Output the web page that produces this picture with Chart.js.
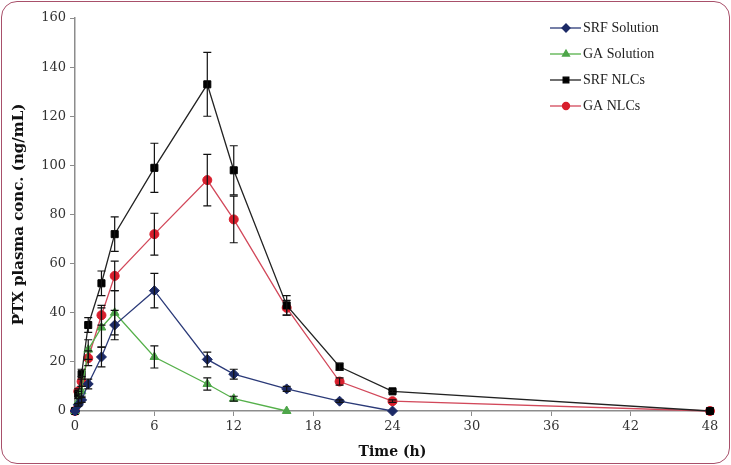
<!DOCTYPE html>
<html lang="en">
<head>
    <meta charset="UTF-8">
    <title>PTX plasma concentration</title>
    <script src="https://cdn.jsdelivr.net/npm/chart.js"></script>
    <style>
        body { margin: 0; background: #fff; }
        .wrap { position: relative; width: 731px; height: 465px; }
        .frame {
            position: absolute; left: 1px; top: 1px; width: 729px; height: 463px;
            box-sizing: border-box; border: 1.5px solid #a8506a; border-radius: 16px;
            pointer-events: none;
        }
        canvas { position: absolute; left: 0; top: 0; }
    </style>
</head>
<body>
    <div class="wrap">
        <canvas id="pkChart" width="731" height="465"></canvas>
        <div class="frame"></div>
    </div>

    <script>
        // sampling times (h)
        const times = [0, 0.25, 0.5, 1, 2, 3, 6, 10, 12, 16, 20, 24, 48];

        // mean plasma conc. (ng/mL) and SD
        const srfSolution = [0, 2.5, 4.5, 11, 22, 35, 49, 21, 15, 9, 4, 0, null];
        const srfSolutionSd = [0, 0.5, 1, 2, 4, 6, 7, 3, 2, 1, 0.5, 0, 0];
        const gaSolution = [0, 4, 8, 25, 34, 40, 22, 11, 5, 0, null, null, null];
        const gaSolutionSd = [0, 1, 2, 4, 8, 9, 4.5, 2.5, 1, 0, 0, 0, 0];
        const srfNlcs = [0, 7, 15, 35, 52, 72, 99, 133, 98, 43, 18, 8, 0];
        const srfNlcsSd = [0, 1, 2, 3, 5, 7, 10, 13, 10, 4, 1.5, 0.5, 0];
        const gaNlcs = [0, 8, 12, 21.5, 39, 55, 72, 94, 78, 42, 12, 4, 0];
        const gaNlcsSd = [0, 1, 2, 3, 4, 6, 8.5, 10.5, 9.5, 3, 1.5, 0.5, 0];

        const xTicks = [0, 6, 12, 18, 24, 30, 36, 42, 48];
        const yTicks = [0, 20, 40, 60, 80, 100, 120, 140, 160];

        const serif = "'Liberation Serif', 'DejaVu Serif', serif";
        const wideSerif = "'DejaVu Serif', serif";

        function toPoints(values) {
            return times.map((t, i) => ({ x: t, y: values[i] }));
        }

        const series = [
            { label: 'SRF Solution', values: srfSolution, sd: srfSolutionSd, line: '#2b3a78', fill: '#1c2a66', style: 'rectRot', r: 5 },
            { label: 'GA Solution', values: gaSolution, sd: gaSolutionSd, line: '#55b04a', fill: '#4ea64a', style: 'triangle', r: 5 },
            { label: 'SRF NLCs', values: srfNlcs, sd: srfNlcsSd, line: '#222222', fill: '#000000', style: 'rect', r: 5 },
            { label: 'GA NLCs', values: gaNlcs, sd: gaNlcsSd, line: '#d2485a', fill: '#d81e2c', style: 'circle', r: 4.5 },
        ];

        // error bars on every point
        const errorBars = {
            id: 'errorBars',
            afterDatasetsDraw(chart) {
                const ctx = chart.ctx;
                const yScale = chart.scales.y;
                ctx.save();
                ctx.strokeStyle = '#111';
                ctx.lineWidth = 1.2;
                chart.data.datasets.forEach((ds, di) => {
                    const meta = chart.getDatasetMeta(di);
                    meta.data.forEach((pt, i) => {
                        const v = ds.data[i].y;
                        const sd = ds.sd[i];
                        if (v === null || !sd) return;
                        const top = yScale.getPixelForValue(v + sd);
                        const bot = yScale.getPixelForValue(v - sd);
                        ctx.beginPath();
                        ctx.moveTo(pt.x, top); ctx.lineTo(pt.x, bot);
                        ctx.moveTo(pt.x - 4, top); ctx.lineTo(pt.x + 4, top);
                        ctx.moveTo(pt.x - 4, bot); ctx.lineTo(pt.x + 4, bot);
                        ctx.stroke();
                    });
                });
                ctx.restore();
            }
        };

        // legend box in the top right, Excel style
        const sideLegend = {
            id: 'sideLegend',
            afterDraw(chart) {
                const ctx = chart.ctx;
                ctx.save();
                ctx.font = '14px ' + serif;
                ctx.textBaseline = 'middle';
                chart.data.datasets.forEach((ds, i) => {
                    const y = 28 + i * 26;
                    ctx.strokeStyle = ds.borderColor;
                    ctx.lineWidth = 1.3;
                    ctx.beginPath();
                    ctx.moveTo(550, y); ctx.lineTo(581, y);
                    ctx.stroke();
                    ctx.fillStyle = ds.pointBackgroundColor;
                    ctx.strokeStyle = ds.pointBackgroundColor;
                    Chart.helpers.drawPoint(ctx, {
                        pointStyle: ds.pointStyle, radius: ds.pointRadius - 1, rotation: 0, borderWidth: 1
                    }, 566, y);
                    ctx.fillStyle = '#222';
                    ctx.fillText(ds.label, 583, y);
                });
                ctx.restore();
            }
        };

        new Chart(document.getElementById('pkChart'), {
            type: 'line',
            data: {
                datasets: series.map(s => ({
                    label: s.label,
                    data: toPoints(s.values),
                    sd: s.sd,
                    borderColor: s.line,
                    borderWidth: 1.3,
                    pointStyle: s.style,
                    pointRadius: s.r,
                    pointBackgroundColor: s.fill,
                    pointBorderColor: s.fill,
                    pointBorderWidth: 1,
                    spanGaps: false,
                    tension: 0,
                    clip: 6,
                })),
            },
            options: {
                responsive: false,
                animation: false,
                events: [],
                layout: { padding: { left: 0, top: 18, right: 21, bottom: 0 } },
                plugins: {
                    legend: { display: false },
                    tooltip: { enabled: false },
                },
                scales: {
                    x: {
                        type: 'linear',
                        min: 0, max: 48,
                        afterBuildTicks(scale) { scale.ticks = xTicks.map(v => ({ value: v })); },
                        afterFit(scale) { scale.height = 54; },
                        grid: { drawOnChartArea: false, drawTicks: true, tickLength: 5, color: '#8c8c8c' },
                        border: { color: '#8c8c8c', width: 1.5 },
                        ticks: { color: '#333', font: { family: wideSerif, size: 13 }, padding: 3, maxRotation: 0 },
                        title: { display: true, text: 'Time (h)', color: '#111', font: { family: wideSerif, size: 14, weight: 'bold' }, padding: { top: 0, bottom: 4 } },
                    },
                    y: {
                        min: 0, max: 160,
                        afterBuildTicks(scale) { scale.ticks = yTicks.map(v => ({ value: v })); },
                        afterFit(scale) { scale.width = 75; },
                        grid: { drawOnChartArea: false, drawTicks: true, tickLength: 5, color: '#8c8c8c' },
                        border: { color: '#8c8c8c', width: 1.5 },
                        ticks: { color: '#333', font: { family: wideSerif, size: 13 }, padding: 4 },
                        title: { display: true, text: 'PTX plasma conc. (ng/mL)', color: '#111', font: { family: wideSerif, size: 15, weight: 'bold' }, padding: { top: 10, bottom: 0 } },
                    },
                },
            },
            plugins: [errorBars, sideLegend],
        });
    </script>
</body>
</html>
